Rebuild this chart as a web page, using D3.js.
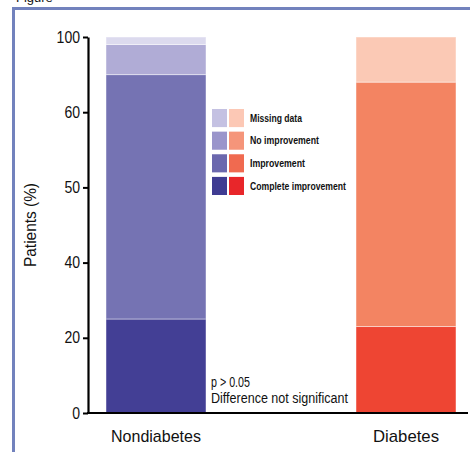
<!DOCTYPE html>
<html>
<head>
<meta charset="utf-8">
<script src="https://cdn.jsdelivr.net/npm/d3@7"></script>
<style>
  html, body { margin: 0; padding: 0; background: #fff; }
  svg { display: block; }
  text { font-family: "Liberation Sans", Arial, sans-serif; fill: #111; }
</style>
</head>
<body>
<div id="chart"></div>
<script>
// data
const categories = ['Nondiabetes', 'Diabetes'];
const outcomes = ['Complete improvement', 'Improvement', 'No improvement', 'Missing data'];
const nondiabetesValues = [25, 65, 8, 2];
const diabetesValues = [23, 65, 0, 12];
const tickValues = [0, 20, 40, 60, 80, 100];
const tickLabels = ['0', '20', '40', '50', '60', '100'];
const blueColors = ['#433f95', '#7573b3', '#b0acd6', '#dcdaee'];
const redColors = ['#ee4533', '#f38462', '#f58f72', '#fbc9b5'];
const legendBlue = ['#3f3c92', '#6b68ae', '#9a95cb', '#c4c1e2'];
const legendRed = ['#e8262a', '#f06a50', '#f5957a', '#fcc8b5'];

const width = 470;
const height = 452;

// the original uses a narrow face; squeeze text to its measured width
const narrow = (sel, w) => sel.attr('textLength', w).attr('lengthAdjust', 'spacingAndGlyphs');

const svg = d3.select('#chart')
    .append('svg')
    .attr('width', width)
    .attr('height', height);

// frame of the figure panel (title sits cut off above the crop)
svg.append('text')
    .attr('x', 16)
    .attr('y', 2)
    .style('font-size', '13px')
    .text('Figure');

svg.append('path')
    .attr('d', `M13.5,${height} V8.5 H${width}`)
    .attr('fill', 'none')
    .attr('stroke', '#7282bd')
    .attr('stroke-width', 3);

const xScale = d3.scaleBand()
    .domain(categories)
    .range([106, 456])
    .paddingInner(0.6)
    .paddingOuter(0);

const yScale = d3.scaleLinear()
    .domain([0, 100])
    .range([413, 37]);

const rows = categories.map((c, i) => {
    const vals = i === 0 ? nondiabetesValues : diabetesValues;
    const r = { category: c };
    outcomes.forEach((o, j) => r[o] = vals[j]);
    return r;
});

const series = d3.stack().keys(outcomes)(rows);

const palettes = { Nondiabetes: blueColors, Diabetes: redColors };

// Bars
series.forEach((s, j) => {
    svg.append('g')
        .selectAll('rect')
        .data(s.filter(d => d[1] > d[0]))
        .enter()
        .append('rect')
        .attr('x', d => xScale(d.data.category))
        .attr('width', xScale.bandwidth())
        .attr('y', d => yScale(d[1]))
        .attr('height', d => yScale(d[0]) - yScale(d[1]))
        .attr('fill', d => palettes[d.data.category][j])
        .attr('stroke', 'rgba(255,255,255,0.45)')
        .attr('stroke-width', 1);
});

// Axes
const yAxis = d3.axisLeft(yScale)
    .tickValues(tickValues)
    .tickFormat((d, i) => tickLabels[i])
    .tickSize(5)
    .tickSizeOuter(0);

const yG = svg.append('g')
    .attr('transform', 'translate(88,0)')
    .call(yAxis);
yG.select('.domain').attr('stroke', '#000').attr('stroke-width', 2.2);
yG.selectAll('.tick line').attr('stroke', '#000').attr('stroke-width', 2);
yG.selectAll('.tick text')
    .attr('x', -8)
    .style('font-size', '16px')
    .style('font-family', '"Liberation Sans", Arial, sans-serif')
    .attr('fill', '#111')
    .each(function (d, i) {
        narrow(d3.select(this), tickLabels[i].length * 7.8);
    });

svg.append('line')
    .attr('x1', 87)
    .attr('x2', 468)
    .attr('y1', yScale(0))
    .attr('y2', yScale(0))
    .attr('stroke', '#000')
    .attr('stroke-width', 2.2);

svg.append('text')
    .attr('transform', `translate(36,${(yScale(0) + yScale(100)) / 2}) rotate(-90)`)
    .attr('text-anchor', 'middle')
    .style('font-size', '17px')
    .text('Patients (%)')
    .call(narrow, 84);

svg.append('g')
    .selectAll('text')
    .data(categories)
    .enter()
    .append('text')
    .attr('x', d => xScale(d) + xScale.bandwidth() / 2)
    .attr('y', 442)
    .attr('text-anchor', 'middle')
    .style('font-size', '17px')
    .text(d => d)
    .each(function (d) {
        narrow(d3.select(this), d === 'Nondiabetes' ? 90 : 66);
    });

// Legend
const legendItems = outcomes.slice().reverse();
const legendWidths = { 'Missing data': 52, 'No improvement': 69, 'Improvement': 55, 'Complete improvement': 96 };
const legendY = d3.scaleBand()
    .domain(legendItems)
    .range([109, 195])
    .paddingInner(0.2);

const legend = svg.append('g').classed('legend', true);
legendItems.forEach((o) => {
    const j = outcomes.indexOf(o);
    const y = legendY(o);
    legend.append('rect')
        .attr('x', 212).attr('y', y)
        .attr('width', 15).attr('height', legendY.bandwidth())
        .attr('fill', legendBlue[j]);
    legend.append('rect')
        .attr('x', 229).attr('y', y)
        .attr('width', 15).attr('height', legendY.bandwidth())
        .attr('fill', legendRed[j]);
    legend.append('text')
        .attr('x', 250)
        .attr('y', y + legendY.bandwidth() / 2)
        .attr('dy', '0.35em')
        .style('font-size', '10.5px')
        .style('font-weight', 'bold')
        .attr('fill', '#222')
        .text(o)
        .call(narrow, legendWidths[o]);
});

// Significance note
svg.append('text')
    .attr('x', 211)
    .attr('y', 387)
    .style('font-size', '14px')
    .text('p > 0.05')
    .call(narrow, 39);
svg.append('text')
    .attr('x', 211)
    .attr('y', 403)
    .style('font-size', '14px')
    .text('Difference not significant')
    .call(narrow, 137);
</script>
</body>
</html>
